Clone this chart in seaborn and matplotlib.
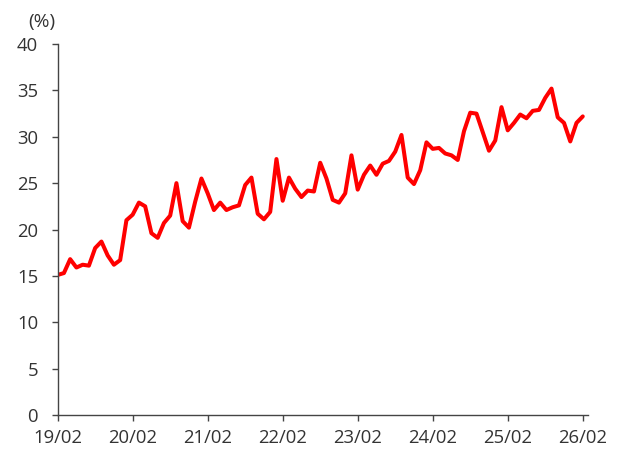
import matplotlib
matplotlib.use("Agg")
import matplotlib.pyplot as plt
import numpy as np
import pandas as pd
import seaborn as sns

# Monthly share (%), Feb 2019 – Feb 2026
months = pd.period_range("2019-02", "2026-02", freq="M").strftime("%y/%m").tolist()
share = [
    15.1, 15.3, 16.8, 15.9, 16.2, 16.1, 18.0, 18.7, 17.2, 16.2, 16.7, 21.0,
    21.6, 22.9, 22.5, 19.6, 19.1, 20.7, 21.5, 25.0, 20.9, 20.2, 23.0, 25.5,
    23.9, 22.1, 22.9, 22.1, 22.4, 22.6, 24.8, 25.6, 21.7, 21.1, 21.9, 27.6,
    23.1, 25.6, 24.4, 23.5, 24.2, 24.1, 27.2, 25.5, 23.2, 22.9, 23.9, 28.0,
    24.3, 25.9, 26.9, 25.9, 27.1, 27.4, 28.4, 30.2, 25.6, 24.9, 26.4, 29.4,
    28.7, 28.8, 28.2, 28.0, 27.5, 30.6, 32.6, 32.5, 30.5, 28.5, 29.6, 33.2,
    30.7, 31.5, 32.4, 32.0, 32.8, 32.9, 34.2, 35.2, 32.1, 31.5, 29.5, 31.5,
    32.2,
]
tick_labels = ["19/02", "20/02", "21/02", "22/02", "23/02", "24/02", "25/02", "26/02"]
y_ticks = [0, 5, 10, 15, 20, 25, 30, 35, 40]

df = pd.DataFrame({"idx": np.arange(len(share)), "month": months, "share": share})

sns.set_style("ticks")
plt.rcParams["font.family"] = ["Open Sans", "DejaVu Sans"]

text_color = "#333333"
spine_color = "#444444"

fig = plt.figure(figsize=(6.2, 4.5), dpi=100)
ax = fig.add_axes([0.093, 0.078, 0.855, 0.824])

sns.lineplot(data=df, x="idx", y="share", ax=ax, color="#ff0000", linewidth=2.9)

tick_pos = [df.index[df["month"] == t][0] for t in tick_labels]
ax.set_xticks(tick_pos)
ax.set_xticklabels(tick_labels)
ax.set_yticks(y_ticks)
ax.set_xlim(0, len(share) - 1 + 0.8)
ax.set_ylim(0, 40)
ax.set_xlabel("")
ax.set_ylabel("")

sns.despine(ax=ax)
for side in ("left", "bottom"):
    ax.spines[side].set_color(spine_color)
    ax.spines[side].set_linewidth(1.0)

ax.tick_params(axis="both", direction="out", length=4, width=1.0,
               color=spine_color, labelsize=13.3, labelcolor=text_color)
ax.tick_params(axis="y", pad=10)
ax.tick_params(axis="x", pad=6)

fig.text(0.046, 0.95, "(%)", fontsize=13.8, color=text_color, va="center", ha="left")

fig.savefig("out.png", dpi=100)
